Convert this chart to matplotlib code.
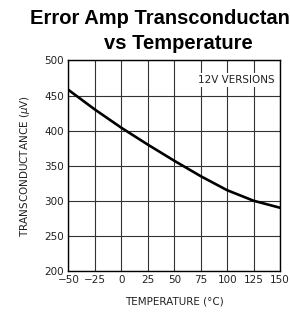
import matplotlib
matplotlib.use('Agg')
from matplotlib import pyplot as plt

temps = [-50, -25, 0, 25, 50, 75, 100, 125, 150]
gm = [458, 430, 404, 380, 357, 335, 315, 300, 290]
xticks = [-50, -25, 0, 25, 50, 75, 100, 125, 150]
yticks = [200, 250, 300, 350, 400, 450, 500]

fig = plt.figure(figsize=(2.9, 3.18), dpi=100)
ax = fig.add_axes([0.236, 0.148, 0.730, 0.662])

ax.plot(temps, gm, color='black', linewidth=1.9, zorder=3)

ax.set_xlim(-50, 150)
ax.set_ylim(200, 500)
ax.set_xticks(xticks)
ax.set_yticks(yticks)
ax.grid(True, color='#333333', linewidth=0.8)
ax.tick_params(length=0, labelsize=7.5, colors='#222222', pad=3)
for s in ax.spines.values():
    s.set_linewidth(1.0)

ax.text(109, 472, '12V VERSIONS', fontsize=7.5, ha='center', va='center',
        color='#222222', zorder=4,
        bbox=dict(facecolor='white', edgecolor='none', pad=1.5))

ax.set_xlabel('TEMPERATURE (°C)', fontsize=7.5, color='#222222', labelpad=8)
ax.set_ylabel('TRANSCONDUCTANCE ($\\mu$V)', fontsize=7.5, color='#222222', labelpad=9)

fig.text(0.103, 0.9245, 'Error Amp Transconductance', fontsize=14.5,
         fontweight='bold', family='Liberation Sans', ha='left', va='baseline')
fig.text(0.614, 0.846, 'vs Temperature', fontsize=14.5,
         fontweight='bold', family='Liberation Sans', ha='center', va='baseline')

fig.savefig('out.png', dpi=100)
